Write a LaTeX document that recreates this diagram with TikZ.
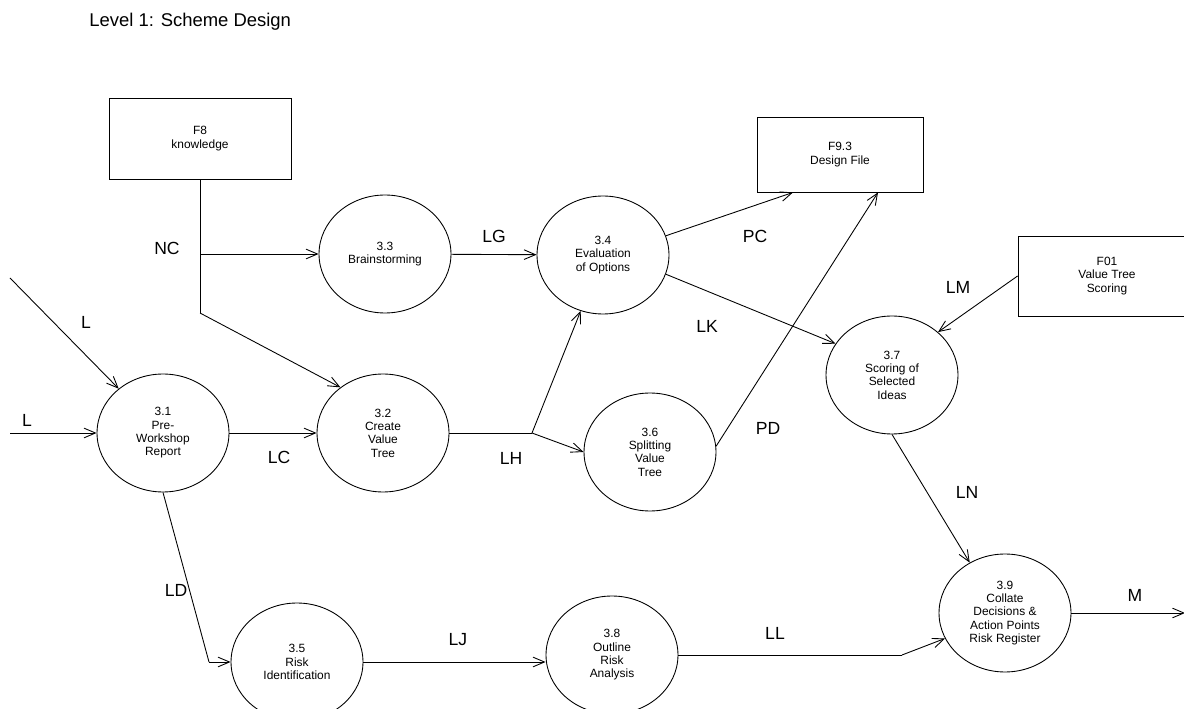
\documentclass[tikz,border=0pt]{standalone}
\usepackage{fontspec}
\setmainfont{Liberation Sans}
\usetikzlibrary{shapes.geometric,arrows.meta,calc}
\tikzset{
  proc/.style={draw, ellipse, line width=0.5pt, minimum width=2.64cm, minimum height=2.36cm,
    inner sep=0pt, align=center, font=\fontsize{6.8}{7.6}\selectfont},
  store/.style={draw, rectangle, line width=0.5pt, inner sep=0pt, align=center,
    font=\fontsize{6.8}{7.6}\selectfont},
  flow/.style={line width=0.5pt, -{Straight Barb[length=6.5pt,width=5.5pt]}},
  link/.style={line width=0.5pt},
  lbl/.style={font=\fontsize{10}{12}\selectfont, inner sep=0pt}
}

\begin{document}
\begin{tikzpicture}[x=0.02cm, y=-0.02cm]
			%%%%% START %%%%%
			\useasboundingbox (0,0) rectangle (1184,709);
			\node[anchor=west, inner sep=0pt, font=\fontsize{10.5}{12}\selectfont] (title) at (89,22) {Level 1: Scheme Design};
			
			% stores
			\node[store, minimum width=3.64cm, minimum height=1.62cm] (f8) at (200,138.5) {F8\\knowledge};
			\node[store, minimum width=3.32cm, minimum height=1.5cm] (f93) at (840,154.5) {F9.3\\Design File};
			\node[store, minimum width=3.56cm, minimum height=1.6cm] (f01) at (1107,276) {F01\\Value Tree\\Scoring};
			
			% processes
			\node[proc] (p31) at (163,433) {3.1\\Pre-\\Workshop\\Report};
			\node[proc] (p32) at (383,433) {3.2\\Create\\Value\\Tree};
			\node[proc] (p33) at (385,254) {3.3\\Brainstorming};
			\node[proc] (p34) at (603,255) {3.4\\Evaluation\\of Options};
			\node[proc] (p36) at (650,452) {3.6\\Splitting\\Value\\Tree};
			\node[proc] (p37) at (892,375) {3.7\\Scoring of\\Selected\\Ideas};
			\node[proc] (p39) at (1005,613) {3.9\\Collate\\Decisions \&\\Action Points\\Risk Register};
			\node[proc] (p35) at (297,662) {3.5\\Risk\\Identification};
			\node[proc] (p38) at (612,655) {3.8\\Outline\\Risk\\Analysis};
			
			% free ends and bends
			\coordinate (inL1) at (10,278);
			\coordinate (inL2) at (10,433);
			\coordinate (ncA) at (200,254);
			\coordinate (ncB) at (200,313);
			\coordinate (lh) at (532,433);
			\coordinate (ld) at (209,662);
			\coordinate (ll) at (902,655);
			\coordinate (outM) at (1185,613);
			
			% flows
			\draw[flow] (inL1) -- (p31.135);
			\draw[flow] (inL2) -- (p31);
			\draw[flow] (p31) -- (p32);
			\draw[link] (f8.south) -- (ncB);
			\draw[flow] (ncA) -- (p33);
			\draw[flow] (ncB) -- (p32.133);
			\draw[flow] (p33) -- (p34);
			\draw[link] (p32) -- (lh);
			\draw[flow] (lh) -- (p34);
			\draw[flow] (lh) -- (p36.west);
			\draw[flow] (p34.17) -- ($(f93.south)+(-47,0)$);
			\draw[flow] (p36.5) -- ($(f93.south)+(38,0)$);
			\draw[flow] (p34.343) -- (p37.151);
			\draw[flow] (f01.west) -- (p37.43);
			\draw[flow] (p37.south) -- (p39.125);
			\draw[link] (p31.south) -- (ld);
			\draw[flow] (ld) -- (p35.west);
			\draw[flow] (p35.east) -- (p35.east -| p38.west);
			\draw[link] (p38.east) -- (ll);
			\draw[flow] (ll) -- (p39.203);
			\draw[flow] (p39.east) -- (outM);
			
			% flow labels
			\node[lbl] (lblL1) at (86,322) {L};
			\node[lbl] (lblL2) at (27,420) {L};
			\node[lbl] (lblNC) at (167,248) {NC};
			\node[lbl] (lblLC) at (279,457) {LC};
			\node[lbl] (lblLG) at (494,236) {LG};
			\node[lbl] (lblLH) at (511,458) {LH};
			\node[lbl] (lblPC) at (755,236) {PC};
			\node[lbl] (lblPD) at (768,428) {PD};
			\node[lbl] (lblLK) at (707,326) {LK};
			\node[lbl] (lblLM) at (958,287) {LM};
			\node[lbl] (lblLN) at (967,492) {LN};
			\node[lbl] (lblLD) at (176,590) {LD};
			\node[lbl] (lblLJ) at (458,640) {LJ};
			\node[lbl] (lblLL) at (775,633) {LL};
			\node[lbl] (lblM) at (1135,595) {M};
			%%%%% END %%%%%
\end{tikzpicture}
\end{document}
